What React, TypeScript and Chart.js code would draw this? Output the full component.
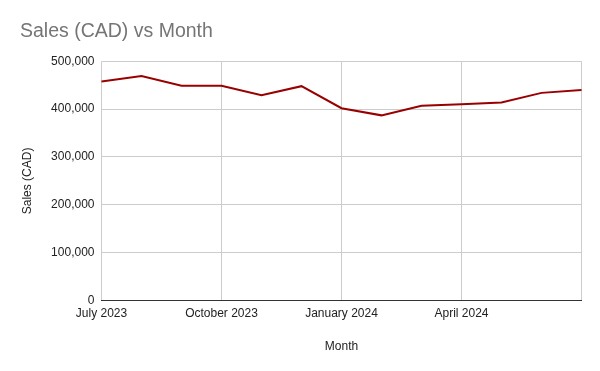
import React, { useEffect, useRef } from 'react';
import { Chart, registerables } from 'chart.js';

Chart.register(...registerables);

const months: string[] = [
  'July 2023', 'August 2023', 'September 2023', 'October 2023', 'November 2023', 'December 2023',
  'January 2024', 'February 2024', 'March 2024', 'April 2024', 'May 2024', 'June 2024', 'July 2024',
];
const sales: number[] = [458000, 469000, 449000, 449000, 429000, 448000, 402000, 387000, 407000, 410000, 414000, 434000, 440000];
const yMin = 0;
const yMax = 500000;
const yStep = 100000;
const titleText = 'Sales (CAD) vs Month';
const yTitle = 'Sales (CAD)';
const xTitle = 'Month';

const FONT = '"Liberation Sans", Arial, sans-serif';

export default function App() {
  const ref = useRef<HTMLCanvasElement | null>(null);
  useEffect(() => {
    if (!ref.current) return;
    const chart = new Chart(ref.current, {
      type: 'line',
      data: {
        labels: months,
        datasets: [
          {
            label: 'Sales (CAD)',
            data: sales,
            borderColor: '#990000',
            backgroundColor: '#990000',
            borderWidth: 2,
            pointRadius: 0,
            tension: 0,
          },
        ],
      },
      options: {
        responsive: false,
        animation: false,
        devicePixelRatio: 1,
        layout: { padding: { left: 20, right: 18.5, top: 0, bottom: 0 } },
        plugins: {
          legend: { display: false },
          tooltip: { enabled: false },
          title: {
            display: true,
            text: titleText,
            align: 'start',
            color: '#757575',
            font: { family: FONT, size: 19.5, weight: 'normal' },
            padding: { top: 20, bottom: 17.9 },
          },
        },
        scales: {
          x: {
            type: 'category',
            offset: false,
            afterFit: (s: any) => { s.height = 70.5; },
            grid: {
              drawTicks: false,
              color: (ctx: any) => (ctx.index % 3 === 0 ? '#cccccc' : 'rgba(0,0,0,0)'),
            },
            border: { display: true, color: '#333333', width: 1 },
            ticks: {
              autoSkip: false,
              maxRotation: 0,
              minRotation: 0,
              padding: 6,
              color: '#222222',
              font: { family: FONT, size: 12 },
              callback: (_v: any, i: number) => (i % 3 === 0 && i < months.length - 1 ? months[i] : ''),
            },
            title: {
              display: true,
              text: xTitle,
              color: '#222222',
              font: { family: FONT, size: 12 },
              padding: { top: 0, bottom: 17 },
            },
          },
          y: {
            min: yMin,
            max: yMax,
            afterFit: (s: any) => { s.width = 81.5; },
            grid: {
              drawTicks: false,
              color: (ctx: any) => (ctx.tick && ctx.tick.value === 0 ? '#333333' : '#cccccc'),
            },
            border: { display: false },
            ticks: {
              stepSize: yStep,
              padding: 7,
              color: '#222222',
              font: { family: FONT, size: 12 },
              callback: (v: any) => Number(v).toLocaleString('en-US'),
            },
            title: {
              display: true,
              text: yTitle,
              color: '#222222',
              font: { family: FONT, size: 12 },
              padding: { top: 0, bottom: 0 },
            },
          },
        },
      } as any,
    });
    return () => chart.destroy();
  }, []);
  return (
    <div style={{ position: 'absolute', left: 0, top: 0, width: 600, height: 371, background: '#fff' }}>
      <canvas ref={ref} width={600} height={371} style={{ display: 'block' }} />
    </div>
  );
}
